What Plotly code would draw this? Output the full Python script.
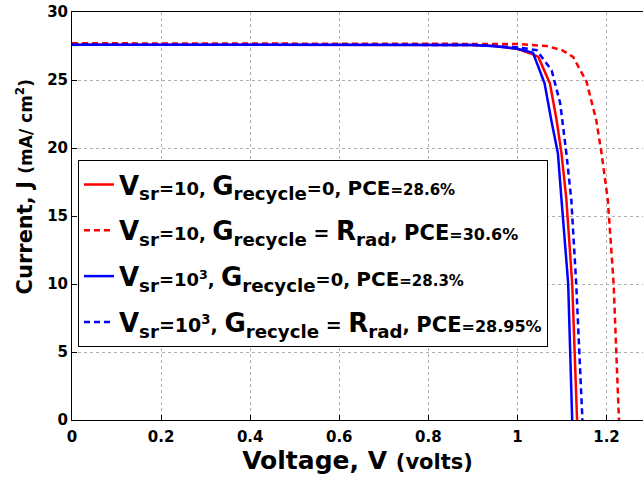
import plotly.graph_objects as go

# Series: voltage (V) and current density J (mA/cm^2)
v_red_solid = [0, 0.2, 0.4, 0.6, 0.8, 0.9, 0.95, 1.0, 1.03, 1.047, 1.073, 1.088, 1.099, 1.11, 1.123, 1.134]
j_red_solid = [27.6, 27.6, 27.6, 27.6, 27.6, 27.58, 27.5, 27.3, 26.95, 26.7, 24.75, 22.06, 19.6, 16.2, 10.05, 0]

v_red_dash = [0, 0.2, 0.4, 0.6, 0.8, 0.9, 1.0, 1.065, 1.1, 1.125, 1.155, 1.177, 1.189, 1.203, 1.216, 1.228]
j_red_dash = [27.7, 27.7, 27.7, 27.7, 27.7, 27.7, 27.65, 27.5, 27.2, 26.7, 24.9, 22.06, 19.6, 16.2, 10.05, 0]

v_blue_solid = [0, 0.2, 0.4, 0.6, 0.8, 0.9, 0.95, 1.0, 1.035, 1.061, 1.076, 1.091, 1.099, 1.114, 1.123]
j_blue_solid = [27.6, 27.6, 27.6, 27.6, 27.6, 27.57, 27.48, 27.3, 27.0, 24.75, 22.06, 19.6, 16.2, 10.05, 0]

v_blue_dash = [0, 0.2, 0.4, 0.6, 0.8, 0.9, 0.95, 1.0, 1.043, 1.077, 1.096, 1.11, 1.121, 1.132, 1.146]
j_blue_dash = [27.6, 27.6, 27.6, 27.6, 27.6, 27.58, 27.5, 27.4, 27.2, 25.7, 23.3, 19.6, 16.2, 10.05, 0]

def s(txt, size):
    return f"<span style='font-size:{size}px'>{txt}</span>"

names = [
    "V<sub>sr</sub>" + s("=10, ", 18) + "G<sub>recycle</sub>" + s("=0, ", 18) + s("PCE", 20) + s("=28.6%", 15),
    "V<sub>sr</sub>" + s("=10, ", 18) + "G<sub>recycle</sub>" + s(" = ", 19) + "R<sub>rad</sub>" + s(", ", 19) + s("PCE", 21) + s("=30.6%", 16),
    "V<sub>sr</sub>" + s("=10<sup>3</sup>, ", 18) + "G<sub>recycle</sub>" + s("=0, ", 18) + s("PCE", 20) + s("=28.3%", 15),
    "V<sub>sr</sub>" + s("=10<sup>3</sup>, ", 19) + "G<sub>recycle</sub>" + s(" = ", 19) + "R<sub>rad</sub>" + s(", ", 19) + s("PCE", 21) + s("=28.95%", 16),
]

x_ticks = [0, 0.2, 0.4, 0.6, 0.8, 1, 1.2]
x_tick_text = ["0", "0.2", "0.4", "0.6", "0.8", "1", "1.2"]
y_ticks = [0, 5, 10, 15, 20, 25, 30]

FONT = "DejaVu Sans"

fig = go.Figure()
fig.add_trace(go.Scatter(x=v_red_solid, y=j_red_solid, mode="lines", name=names[0], legendgroup="a",
                         line=dict(color="#ff0000", width=2.5)))
fig.add_trace(go.Scatter(x=v_red_dash, y=j_red_dash, mode="lines", name=names[1], legendgroup="b",
                         line=dict(color="#ff0000", width=2.5, dash="6px,4px")))
fig.add_trace(go.Scatter(x=v_blue_solid, y=j_blue_solid, mode="lines", name=names[2], legendgroup="c",
                         line=dict(color="#0000ff", width=2.5)))
fig.add_trace(go.Scatter(x=v_blue_dash, y=j_blue_dash, mode="lines", name=names[3], legendgroup="d",
                         line=dict(color="#0000ff", width=2.5, dash="6px,4px")))

axis_common = dict(
    showgrid=True, gridcolor="#b0b0b0", griddash="dot", gridwidth=1,
    showline=True, linecolor="#000000", linewidth=1,
    ticks="inside", ticklen=5, tickcolor="#000000",
    tickfont=dict(family=FONT, size=15, color="#000000", weight="bold"),
    zeroline=False, automargin=False, ticklabeloverflow="allow",
)

fig.update_layout(
    width=643, height=477,
    margin=dict(l=72, r=0, t=12, b=57),
    paper_bgcolor="white", plot_bgcolor="white",
    font=dict(family=FONT, color="#000000"),
    xaxis=dict(range=[0, 1.282], tickvals=x_ticks, ticktext=x_tick_text, ticklabelstandoff=3,
               mirror=True,
               title=dict(text="Voltage, V <span style='font-size:21px'>(volts)</span>",
                          font=dict(family=FONT, size=25, weight="bold"), standoff=0),
               **axis_common),
    yaxis=dict(range=[0, 30], tickvals=y_ticks, mirror=False, **axis_common),
    legend=dict(x=0.0105, y=0.637, xanchor="left", yanchor="top",
                bgcolor="white", bordercolor="#000000", borderwidth=1,
                font=dict(family=FONT, size=26, color="#000000", weight="bold"),
                itemwidth=30, tracegroupgap=9),
    showlegend=True,
    annotations=[dict(
        text="Current, J <span style='font-size:17px'>(mA/ cm<sup>2</sup>)</span>",
        textangle=-90, xref="paper", yref="paper", x=-0.0823, y=0.57,
        xanchor="center", yanchor="middle", showarrow=False,
        font=dict(family=FONT, size=21, color="#000000", weight="bold"),
    )],
)

fig.write_html("out.html",
               config={"displayModeBar": False},
               post_script="document.body.style.margin='0';document.body.style.overflow='hidden';")
